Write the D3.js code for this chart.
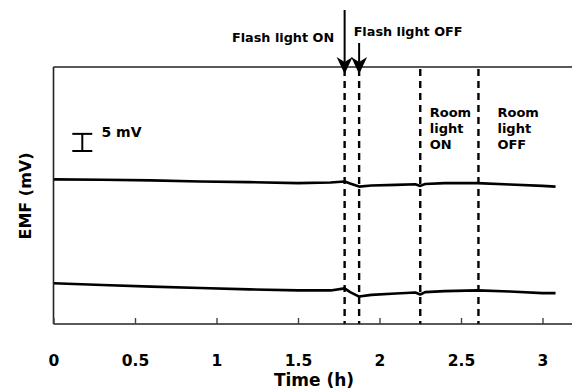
<!DOCTYPE html>
<html>
<head>
<meta charset="utf-8">
<script src="https://cdn.jsdelivr.net/npm/d3@7"></script>
<style>
html,body{margin:0;padding:0;background:#fff;}
svg{display:block;}
text{font-family:"DejaVu Sans",Verdana,sans-serif;font-weight:bold;fill:#000;}
</style>
</head>
<body>
<svg id="chart" width="572" height="390"></svg>
<script>
// ---- data ----
const timeH = [0, 0.3, 0.6, 0.9, 1.2, 1.5, 1.7, 1.786, 1.82, 1.875, 1.95, 2.1, 2.22, 2.25, 2.28, 2.4, 2.6, 2.8, 3.0, 3.08];
const upperTrace = [42.2, 42.1, 41.9, 41.6, 41.4, 41.1, 41.3, 41.6, 41.0, 40.1, 40.4, 40.6, 40.8, 40.3, 40.85, 41.1, 41.1, 40.7, 40.3, 40.1];
const lowerTrace = [11.9, 11.4, 10.9, 10.5, 10.1, 9.8, 9.8, 10.4, 9.3, 8.0, 8.5, 8.9, 9.2, 8.6, 9.3, 9.6, 9.8, 9.5, 9.0, 9.0];
const xTicks = [0, 0.5, 1, 1.5, 2, 2.5, 3];
const eventTimes = [1.786, 1.875, 2.25, 2.607];
const flashLabels = ["Flash light ON", "Flash light OFF"];
const roomOnLabel = ["Room", "light", "ON"];
const roomOffLabel = ["Room", "light", "OFF"];
const scaleBarMV = 5;
const xTitle = "Time (h)";
const yTitle = "EMF (mV)";

// ---- layout ----
(function () {
const svg = d3.select("#chart");
const pLeft = 53.5, pTop = 67, pBottom = 324;
const x = d3.scaleLinear().domain([0, 3.2]).range([pLeft, pLeft + 163 * 3.2]);
const y = d3.scaleLinear().domain([0, 75]).range([pBottom, pTop]);

// event dashed lines
svg.append("g").selectAll("line").data(eventTimes).join("line")
  .attr("x1", d => x(d)).attr("x2", d => x(d))
  .attr("y1", pTop + 2).attr("y2", pBottom)
  .attr("stroke", "#000").attr("stroke-width", 2.4)
  .attr("stroke-dasharray", "7,5");

// traces
const line = d3.line().x((d, i) => x(timeH[i])).y(d => y(d));
[upperTrace, lowerTrace].forEach(s => {
  svg.append("path").datum(s).attr("d", line)
    .attr("fill", "none").attr("stroke", "#000").attr("stroke-width", 2.6)
    .attr("stroke-linejoin", "round");
});

// frame: left, top
svg.append("line").attr("x1", pLeft).attr("x2", 572).attr("y1", pTop).attr("y2", pTop)
  .attr("stroke", "#222").attr("stroke-width", 1.6);
svg.append("line").attr("x1", pLeft).attr("x2", pLeft).attr("y1", pTop).attr("y2", pBottom)
  .attr("stroke", "#222").attr("stroke-width", 1.6);

// x axis
const xAxis = d3.axisBottom(x).tickValues(xTicks).tickSizeInner(-6).tickSizeOuter(0)
  .tickPadding(31).tickFormat(d3.format("~g"));
const gx = svg.append("g").attr("transform", `translate(0,${pBottom})`).call(xAxis);
gx.select(".domain").attr("stroke", "#222").attr("stroke-width", 1.6).attr("d", `M${pLeft},0H572`);
gx.selectAll(".tick line").attr("stroke", "#444").attr("stroke-width", 1.4);
gx.selectAll(".tick text").attr("font-size", 15.5).attr("font-family", '"DejaVu Sans",sans-serif').attr("font-weight", "bold").attr("fill", "#000");

// axis titles
svg.append("text").attr("x", 314).attr("y", 386).attr("text-anchor", "middle")
  .attr("font-size", 17).text(xTitle);
svg.append("text").attr("transform", "translate(31,196) rotate(-90)").attr("text-anchor", "middle")
  .attr("font-size", 16).text(yTitle);

// scale bar
const sbX = 82.3;
const sbBottom = 151;
const sbTop = sbBottom - (y(0) - y(scaleBarMV));
const sb = svg.append("g").attr("stroke", "#000").attr("stroke-width", 2);
sb.append("line").attr("x1", sbX).attr("x2", sbX).attr("y1", sbTop).attr("y2", sbBottom);
sb.append("line").attr("x1", sbX - 10).attr("x2", sbX + 10).attr("y1", sbTop).attr("y2", sbTop);
sb.append("line").attr("x1", sbX - 10).attr("x2", sbX + 10).attr("y1", sbBottom).attr("y2", sbBottom);
svg.append("text").attr("x", 101.5).attr("y", 137).attr("font-size", 14).text(scaleBarMV + " mV");

// arrows
function arrow(xp, y0, tip) {
  svg.append("line").attr("x1", xp).attr("x2", xp).attr("y1", y0).attr("y2", tip - 8)
    .attr("stroke", "#000").attr("stroke-width", 2);
  svg.append("path").attr("d", `M${xp - 8},${tip - 17}L${xp},${tip - 12}L${xp + 8},${tip - 17}L${xp},${tip}Z`)
    .attr("fill", "#000");
}
arrow(x(eventTimes[0]), 10, 74);
arrow(x(eventTimes[1]), 43, 74);

// flash labels
svg.append("text").attr("x", x(eventTimes[0]) - 10.5).attr("y", 42).attr("text-anchor", "end")
  .attr("font-size", 12.8).text(flashLabels[0]);
svg.append("text").attr("x", x(eventTimes[1]) - 5.5).attr("y", 36)
  .attr("font-size", 12.8).text(flashLabels[1]);

// room labels
roomOnLabel.forEach((t, i) => {
  svg.append("text").attr("x", x(eventTimes[2]) + 9.5).attr("y", 116.5 + i * 16.4)
    .attr("font-size", 13).text(t);
});
roomOffLabel.forEach((t, i) => {
  svg.append("text").attr("x", x(eventTimes[3]) + 19).attr("y", 116.5 + i * 16.4)
    .attr("font-size", 13).text(t);
});
})();
</script>
</body>
</html>
